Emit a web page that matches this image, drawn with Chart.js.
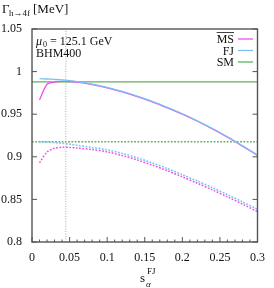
<!DOCTYPE html>
<html lang="en">
<head>
    <meta charset="UTF-8">
    <title>Gamma h->4f vs s_alpha FJ</title>
    <script src="https://cdn.jsdelivr.net/npm/chart.js"></script>
    <style>
        body { margin: 0; background: #fff; }
    </style>
</head>
<body>
    <canvas id="widthChart" width="274" height="288"></canvas>
    <script>
        // values
        const sAlpha = [0.01, 0.02, 0.03, 0.04, 0.05, 0.06, 0.08, 0.10, 0.12, 0.14, 0.16, 0.18, 0.20, 0.22, 0.24, 0.26, 0.28, 0.30];
        const msSolid = [0.9667, 0.9852, 0.9876, 0.9885, 0.9884, 0.9877, 0.9848, 0.9810, 0.9763, 0.9707, 0.9645, 0.9575, 0.9500, 0.9417, 0.9327, 0.9230, 0.9125, 0.9015];
        const fjSolid = [0.9917, 0.9913, 0.9908, 0.9902, 0.9893, 0.9882, 0.9853, 0.9815, 0.9768, 0.9712, 0.9650, 0.9580, 0.9505, 0.9422, 0.9332, 0.9235, 0.9130, 0.9020];
        const msDotted = [0.8930, 0.9055, 0.9100, 0.9112, 0.9110, 0.9103, 0.9085, 0.9058, 0.9015, 0.8963, 0.8903, 0.8837, 0.8765, 0.8690, 0.8612, 0.8530, 0.8445, 0.8356];
        const fjDotted = [0.9176, 0.9172, 0.9166, 0.9158, 0.9148, 0.9136, 0.9110, 0.9082, 0.9040, 0.8988, 0.8928, 0.8862, 0.8790, 0.8716, 0.8638, 0.8556, 0.8471, 0.8383];
        const smRange = [0, 0.3];
        const smSolid = 0.988;
        const smDotted = 0.9177;
        const markerS = 0.045;
        const xMinorTicks = [0.01, 0.02, 0.03, 0.04, 0.06, 0.07, 0.08, 0.09, 0.11, 0.12, 0.13, 0.14, 0.16, 0.17, 0.18, 0.19, 0.21, 0.22, 0.23, 0.24, 0.26, 0.27, 0.28, 0.29];

        const MS_COL = '#f050f0';
        const FJ_COL = '#78c2f0';
        const SM_COL = '#5db35d';
        const SERIF = '"Liberation Serif", "DejaVu Serif", serif';
        const DOTS = [1.8, 1.5];

        function pts(xs, ys) {
            return xs.map((x, i) => ({ x: x, y: ys[i] }));
        }

        const decor = {
            id: 'decor',
            beforeDatasetsDraw(chart) {
                const { ctx, chartArea: a, scales: { x } } = chart;
                const px = x.getPixelForValue(markerS);
                ctx.save();
                ctx.strokeStyle = '#aaaaaa';
                ctx.lineWidth = 1;
                ctx.setLineDash([1, 1.5]);
                ctx.beginPath();
                ctx.moveTo(px, a.bottom);
                ctx.lineTo(px, a.top);
                ctx.stroke();
                ctx.restore();
            },
            afterDraw(chart) {
                const { ctx, chartArea: a, scales: { x, y } } = chart;
                ctx.save();
                // frame
                ctx.strokeStyle = '#555';
                ctx.lineWidth = 1.4;
                ctx.strokeRect(a.left, a.top, a.right - a.left, a.bottom - a.top);

                // inward ticks
                ctx.lineWidth = 1;
                ctx.beginPath();
                y.ticks.forEach(t => {
                    const py = y.getPixelForValue(t.value);
                    ctx.moveTo(a.left, py); ctx.lineTo(a.left + 5, py);
                    ctx.moveTo(a.right, py); ctx.lineTo(a.right - 5, py);
                });
                x.ticks.forEach(t => {
                    const px = x.getPixelForValue(t.value);
                    ctx.moveTo(px, a.bottom); ctx.lineTo(px, a.bottom - 5);
                });
                xMinorTicks.forEach(v => {
                    const px = x.getPixelForValue(v);
                    ctx.moveTo(px, a.bottom); ctx.lineTo(px, a.bottom - 2.5);
                });
                ctx.stroke();

                ctx.fillStyle = '#111';
                ctx.textBaseline = 'alphabetic';

                // y title: Gamma_{h->4f} [MeV]
                ctx.textAlign = 'left';
                ctx.font = '13px ' + SERIF;
                ctx.fillText('Γ', 2, 13);
                ctx.font = '9px ' + SERIF;
                ctx.fillText('h→4f', 9, 16);
                ctx.font = '13px ' + SERIF;
                ctx.fillText('[MeV]', 33, 13);

                // annotation
                ctx.font = 'italic 12px ' + SERIF;
                ctx.fillText('μ', 36, 45);
                ctx.font = '8px ' + SERIF;
                ctx.fillText('0', 43, 47);
                ctx.font = '12px ' + SERIF;
                ctx.fillText('= 125.1 GeV', 50, 45);
                ctx.fillText('BHM400', 36, 57);

                // legend
                const rows = [
                    { label: 'MS', col: MS_COL, base: 43, over: true },
                    { label: 'FJ', col: FJ_COL, base: 54.5, over: false },
                    { label: 'SM', col: SM_COL, base: 66, over: false }
                ];
                ctx.font = '12px ' + SERIF;
                ctx.textAlign = 'right';
                rows.forEach(r => {
                    ctx.fillStyle = '#111';
                    ctx.fillText(r.label, 234, r.base);
                    if (r.over) {
                        const w = ctx.measureText(r.label).width;
                        ctx.strokeStyle = '#111';
                        ctx.lineWidth = 0.8;
                        ctx.beginPath();
                        ctx.moveTo(234 - w, r.base - 10.5);
                        ctx.lineTo(234, r.base - 10.5);
                        ctx.stroke();
                    }
                    ctx.strokeStyle = r.col;
                    ctx.lineWidth = 1.3;
                    ctx.beginPath();
                    ctx.moveTo(238, r.base - 4);
                    ctx.lineTo(253, r.base - 4);
                    ctx.stroke();
                });

                // x title: s_alpha^FJ
                ctx.fillStyle = '#111';
                ctx.textAlign = 'left';
                ctx.font = '13px ' + SERIF;
                ctx.fillText('s', 140, 282);
                ctx.font = '9px ' + SERIF;
                ctx.fillText('FJ', 147, 274);
                ctx.font = 'italic 9px ' + SERIF;
                ctx.fillText('α', 146, 287);
                ctx.restore();
            }
        };

        function fmt(v) {
            return String(parseFloat(Number(v).toFixed(2)));
        }

        const ctx = document.getElementById('widthChart').getContext('2d');
        const chart = new Chart(ctx, {
            type: 'line',
            data: {
                datasets: [
                    { label: 'FJ', data: pts(sAlpha, fjSolid), borderColor: FJ_COL, borderWidth: 1.3, order: 0 },
                    { label: 'MS', data: pts(sAlpha, msSolid), borderColor: MS_COL, borderWidth: 1.3, order: 1 },
                    { label: 'FJ dotted', data: pts(sAlpha, fjDotted), borderColor: FJ_COL, borderWidth: 1.5, borderDash: DOTS, order: 0 },
                    { label: 'MS dotted', data: pts(sAlpha, msDotted), borderColor: MS_COL, borderWidth: 1.5, borderDash: DOTS, order: 1 },
                    { label: 'SM', data: pts(smRange, [smSolid, smSolid]), borderColor: SM_COL, borderWidth: 1.3, order: 2 },
                    { label: 'SM dotted', data: pts(smRange, [smDotted, smDotted]), borderColor: SM_COL, borderWidth: 1.5, borderDash: DOTS, order: 2 }
                ]
            },
            options: {
                responsive: false,
                devicePixelRatio: 1,
                animation: false,
                layout: { padding: { top: 29, right: 8, left: 0, bottom: 0 } },
                elements: {
                    point: { radius: 0 },
                    line: { tension: 0.3, fill: false }
                },
                plugins: {
                    legend: { display: false },
                    tooltip: { enabled: false }
                },
                scales: {
                    x: {
                        type: 'linear',
                        min: 0,
                        max: 0.3,
                        grid: { display: false, drawTicks: false },
                        border: { display: false },
                        ticks: {
                            stepSize: 0.05,
                            padding: 9,
                            maxRotation: 0,
                            color: '#111',
                            font: { family: SERIF, size: 12 },
                            callback: v => fmt(v)
                        },
                        afterFit: s => { s.height = 46; }
                    },
                    y: {
                        min: 0.8,
                        max: 1.05,
                        grid: { display: false, drawTicks: false },
                        border: { display: false },
                        ticks: {
                            stepSize: 0.05,
                            padding: 10,
                            color: '#111',
                            font: { family: SERIF, size: 12 },
                            callback: v => fmt(v)
                        },
                        afterFit: s => { s.width = 32; }
                    }
                }
            },
            plugins: [decor]
        });
    </script>
</body>
</html>
